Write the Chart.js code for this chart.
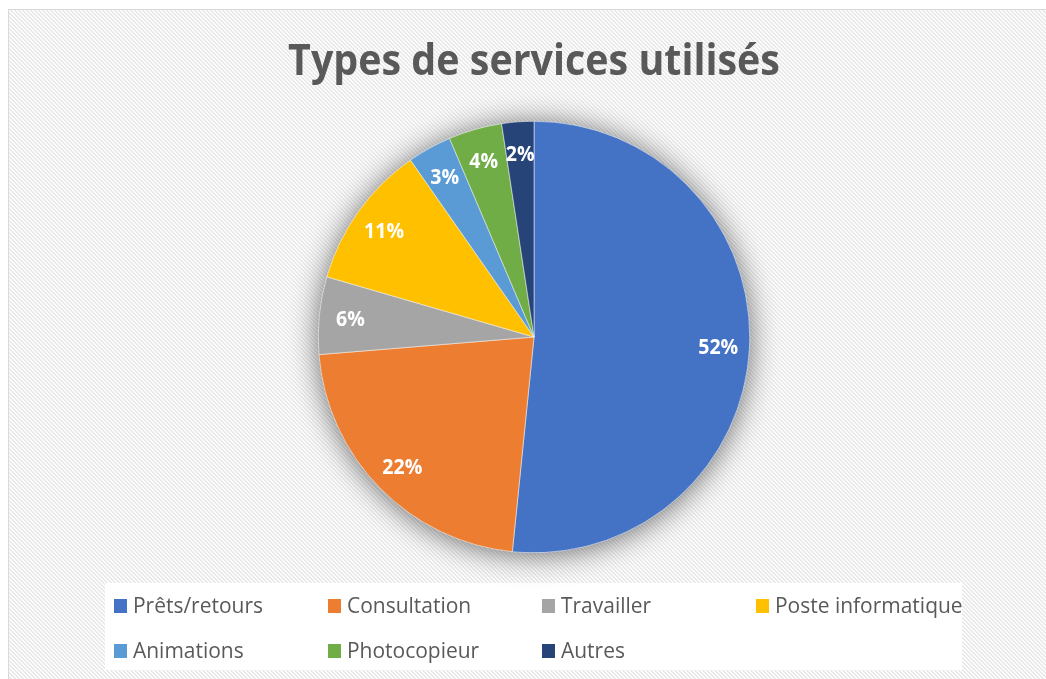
<!DOCTYPE html>
<html><head><meta charset="utf-8">
<script src="https://cdn.jsdelivr.net/npm/chart.js@4/dist/chart.umd.min.js"></script>
<style>html,body{margin:0;padding:0;background:#fff}#wrap{width:1046px;height:679px}</style>
</head><body><div id="wrap"><canvas id="c" width="1046" height="679"></canvas></div>
<script>
const title = "Types de services utilisés";
const categories = ["Prêts/retours","Consultation","Travailler","Poste informatique","Animations","Photocopieur","Autres"];
const values = [51.6, 22.1, 5.8, 10.8, 3.3, 4.0, 2.4];
const colors = ["#4472C4","#ED7D31","#A5A5A5","#FFC000","#5B9BD5","#70AD47","#264478"];
const FAM = "'Open Sans', sans-serif";

function fitText(ctx, text, weight, targetW, targetCap, x, baseline, align){
  ctx.font = weight+" 40px "+FAM;
  const w = ctx.measureText(text).width;
  const size = 40*targetW/w;
  ctx.font = weight+" "+size+"px "+FAM;
  const cap = ctx.measureText("H").actualBoundingBoxAscent;
  const sy = targetCap ? targetCap/cap : 1;
  ctx.save();
  ctx.textAlign = align; ctx.textBaseline='alphabetic';
  ctx.translate(x, baseline); ctx.scale(1, sy);
  ctx.fillText(text, 0, 0);
  ctx.restore();
}

const bgPlugin = {
  id:'bg',
  beforeDraw(chart){
    const ctx = chart.ctx;
    ctx.save();
    ctx.fillStyle='#fff'; ctx.fillRect(0,0,chart.width,chart.height);
    const p = document.createElement('canvas'); p.width=4; p.height=4;
    const pc = p.getContext('2d');
    pc.fillStyle='#fdfdfd'; pc.fillRect(0,0,4,4);
    pc.fillStyle='#e9e9e9';
    for(let i=0;i<4;i++){ pc.fillRect(i,i,1,1); pc.fillRect((i+1)%4,i,1,1); }
    ctx.fillStyle = ctx.createPattern(p,'repeat');
    ctx.fillRect(9,10,chart.width,chart.height);
    ctx.strokeStyle='#d9d9d9'; ctx.lineWidth=1;
    ctx.strokeRect(8.5,9.5,chart.width+10,chart.height+10);
    ctx.fillStyle='#595959';
    fitText(ctx, title, 'bold', 492, 30, 534, 75, 'center');
    ctx.fillStyle='#fff'; ctx.fillRect(105,583,857,87);
    ctx.font = "normal 40px "+FAM;
    const k = 130/ctx.measureText(categories[0]).width;
    ctx.font = "normal "+(40*k)+"px "+FAM;
    ctx.textAlign='left'; ctx.textBaseline='alphabetic';
    const colsX=[114,328,542,756], rowsY=[606,651];
    categories.forEach((c,i)=>{
      const x=colsX[i%4], y=rowsY[Math.floor(i/4)];
      ctx.fillStyle=colors[i]; ctx.fillRect(x,y-7,13,14);
      ctx.fillStyle='#595959';
      ctx.fillText(c, x+19, y+7);
    });
    ctx.restore();
  },
  beforeDatasetsDraw(chart){
    const arc = chart.getDatasetMeta(0).data[0];
    if(!arc) return;
    const ctx=chart.ctx; ctx.save();
    ctx.shadowColor='rgba(0,0,0,0.6)'; ctx.shadowBlur=30; ctx.shadowOffsetX=0; ctx.shadowOffsetY=2;
    ctx.fillStyle='#888'; ctx.beginPath(); ctx.arc(arc.x,arc.y,arc.outerRadius-1,0,Math.PI*2); ctx.fill();
    ctx.restore();
  },
  afterDatasetsDraw(chart){
    const ctx=chart.ctx; ctx.save();
    const total = values.reduce((a,b)=>a+b,0);
    ctx.fillStyle='#fff';
    ctx.font = "bold 40px "+FAM;
    const k = 40/ctx.measureText("52%").width;
    chart.getDatasetMeta(0).data.forEach((a,i)=>{
      const mid=(a.startAngle+a.endAngle)/2, r=a.outerRadius*0.855;
      const t = Math.round(values[i]/total*100)+'%';
      ctx.font = "bold 40px "+FAM;
      const w = ctx.measureText(t).width*k;
      fitText(ctx, t, 'bold', w, 15, a.x+Math.cos(mid)*r, a.y+Math.sin(mid)*r+8, 'center');
    });
    ctx.restore();
  }
};

new Chart(document.getElementById('c'),{
  type:'pie',
  data:{labels:categories,datasets:[{data:values,backgroundColor:colors,borderWidth:0.5,borderColor:'#ffffff'}]},
  options:{
    responsive:false, animation:false,
    layout:{padding:{top:121,bottom:126,left:318,right:296}},
    plugins:{legend:{display:false},title:{display:false},tooltip:{enabled:false}}
  },
  plugins:[bgPlugin]
});
</script></body></html>
